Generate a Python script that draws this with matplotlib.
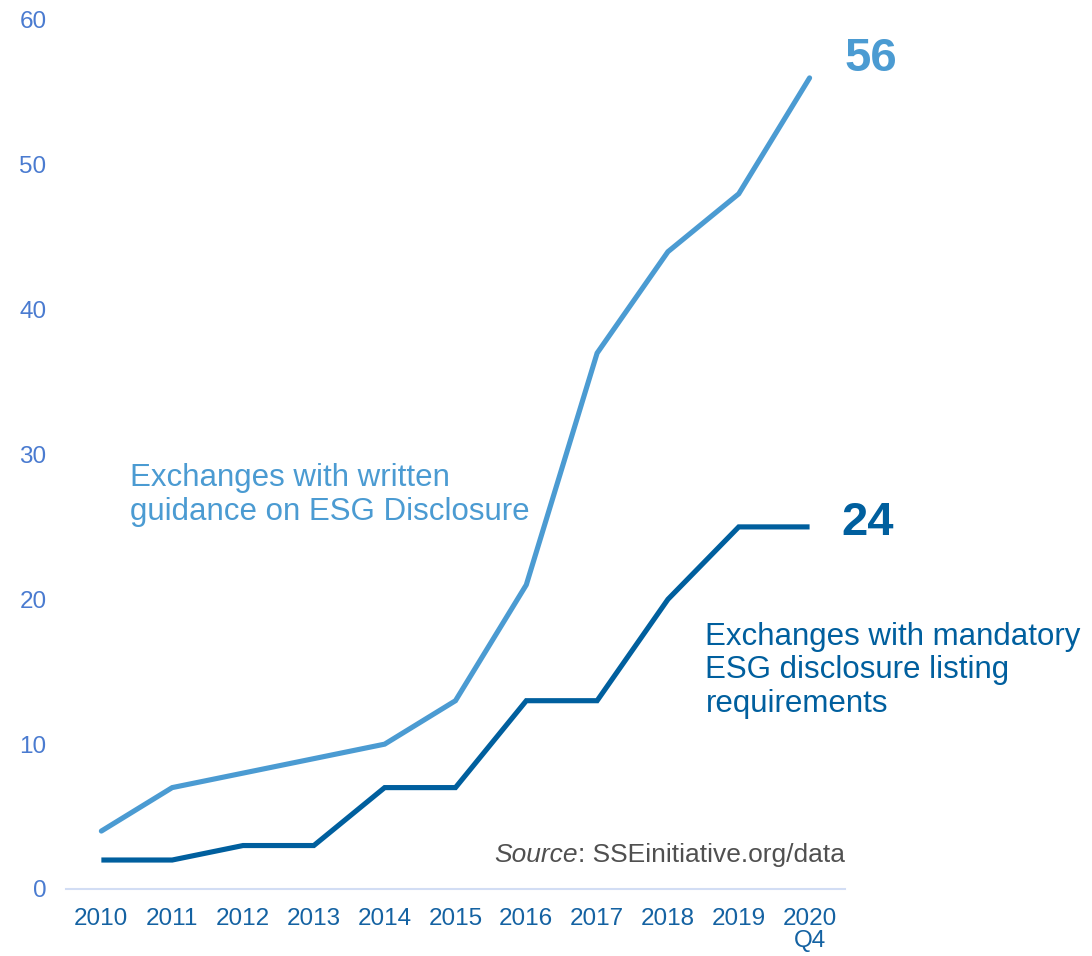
import matplotlib
matplotlib.use("Agg")
import matplotlib.pyplot as plt

plt.rcParams['font.family'] = ['Liberation Sans', 'DejaVu Sans']

years = ['2010', '2011', '2012', '2013', '2014', '2015', '2016', '2017', '2018', '2019', '2020\nQ4']
guidance = [4, 7, 8, 9, 10, 13, 21, 37, 44, 48, 56]
mandatory = [2, 2, 3, 3, 7, 7, 13, 13, 20, 25, 25]
end_labels = ['56', '24']

light = '#4B9BD2'
dark = '#005F9E'
grey = '#505050'

fig = plt.figure(figsize=(10.92, 9.56), dpi=100)
ax = fig.add_axes([0.0604, 0.0701, 0.7134, 0.909])

x = list(range(len(years)))
ax.plot(x, guidance, color=light, lw=3.7, solid_capstyle='round', solid_joinstyle='miter')
ax.plot(x, mandatory, color=dark, lw=3.7, solid_capstyle='butt', solid_joinstyle='miter')

ax.set_xlim(-0.5, 10.5)
ax.set_ylim(0, 60)
ax.set_yticks(range(0, 61, 10))
ax.set_xticks(x)
ax.set_xticklabels(years, color='#1462A2', fontsize=17.5, linespacing=1.0)
for lab in ax.get_yticklabels():
    lab.set_color('#4A7BD0')
    lab.set_fontsize(17.5)
ax.tick_params(axis='both', length=0)
ax.tick_params(axis='x', pad=14)
ax.tick_params(axis='y', pad=14)

for s in ['top', 'right', 'left']:
    ax.spines[s].set_visible(False)
ax.spines['bottom'].set_color('#D2DDF4')
ax.spines['bottom'].set_linewidth(1.5)

ax.text(0.4, 27.2, 'Exchanges with written\nguidance on ESG Disclosure',
        color=light, fontsize=22.5, va='center', ha='left', linespacing=1.15)
ax.text(8.53, 15.1, 'Exchanges with mandatory\nESG disclosure listing\nrequirements',
        color=dark, fontsize=22.5, va='center', ha='left', linespacing=1.15, clip_on=False)

ax.text(10.5, 57.3, end_labels[0], color=light, fontsize=34, fontweight='bold',
        va='center', ha='left', clip_on=False)
ax.text(10.45, 25.3, end_labels[1], color=dark, fontsize=34, fontweight='bold',
        va='center', ha='left', clip_on=False)

# source note: italic "Source" followed by plain text, right aligned at axis end
t = ax.text(10.5, 2.35, ': SSEinitiative.org/data', color=grey, fontsize=19,
            va='center', ha='right')
fig.canvas.draw()
bb = t.get_window_extent()
x0 = ax.transData.inverted().transform((bb.x0, bb.y0))[0]
ax.text(x0, 2.35, 'Source', color=grey, fontsize=19, style='italic',
        va='center', ha='right')

fig.savefig('out.png', dpi=100)
